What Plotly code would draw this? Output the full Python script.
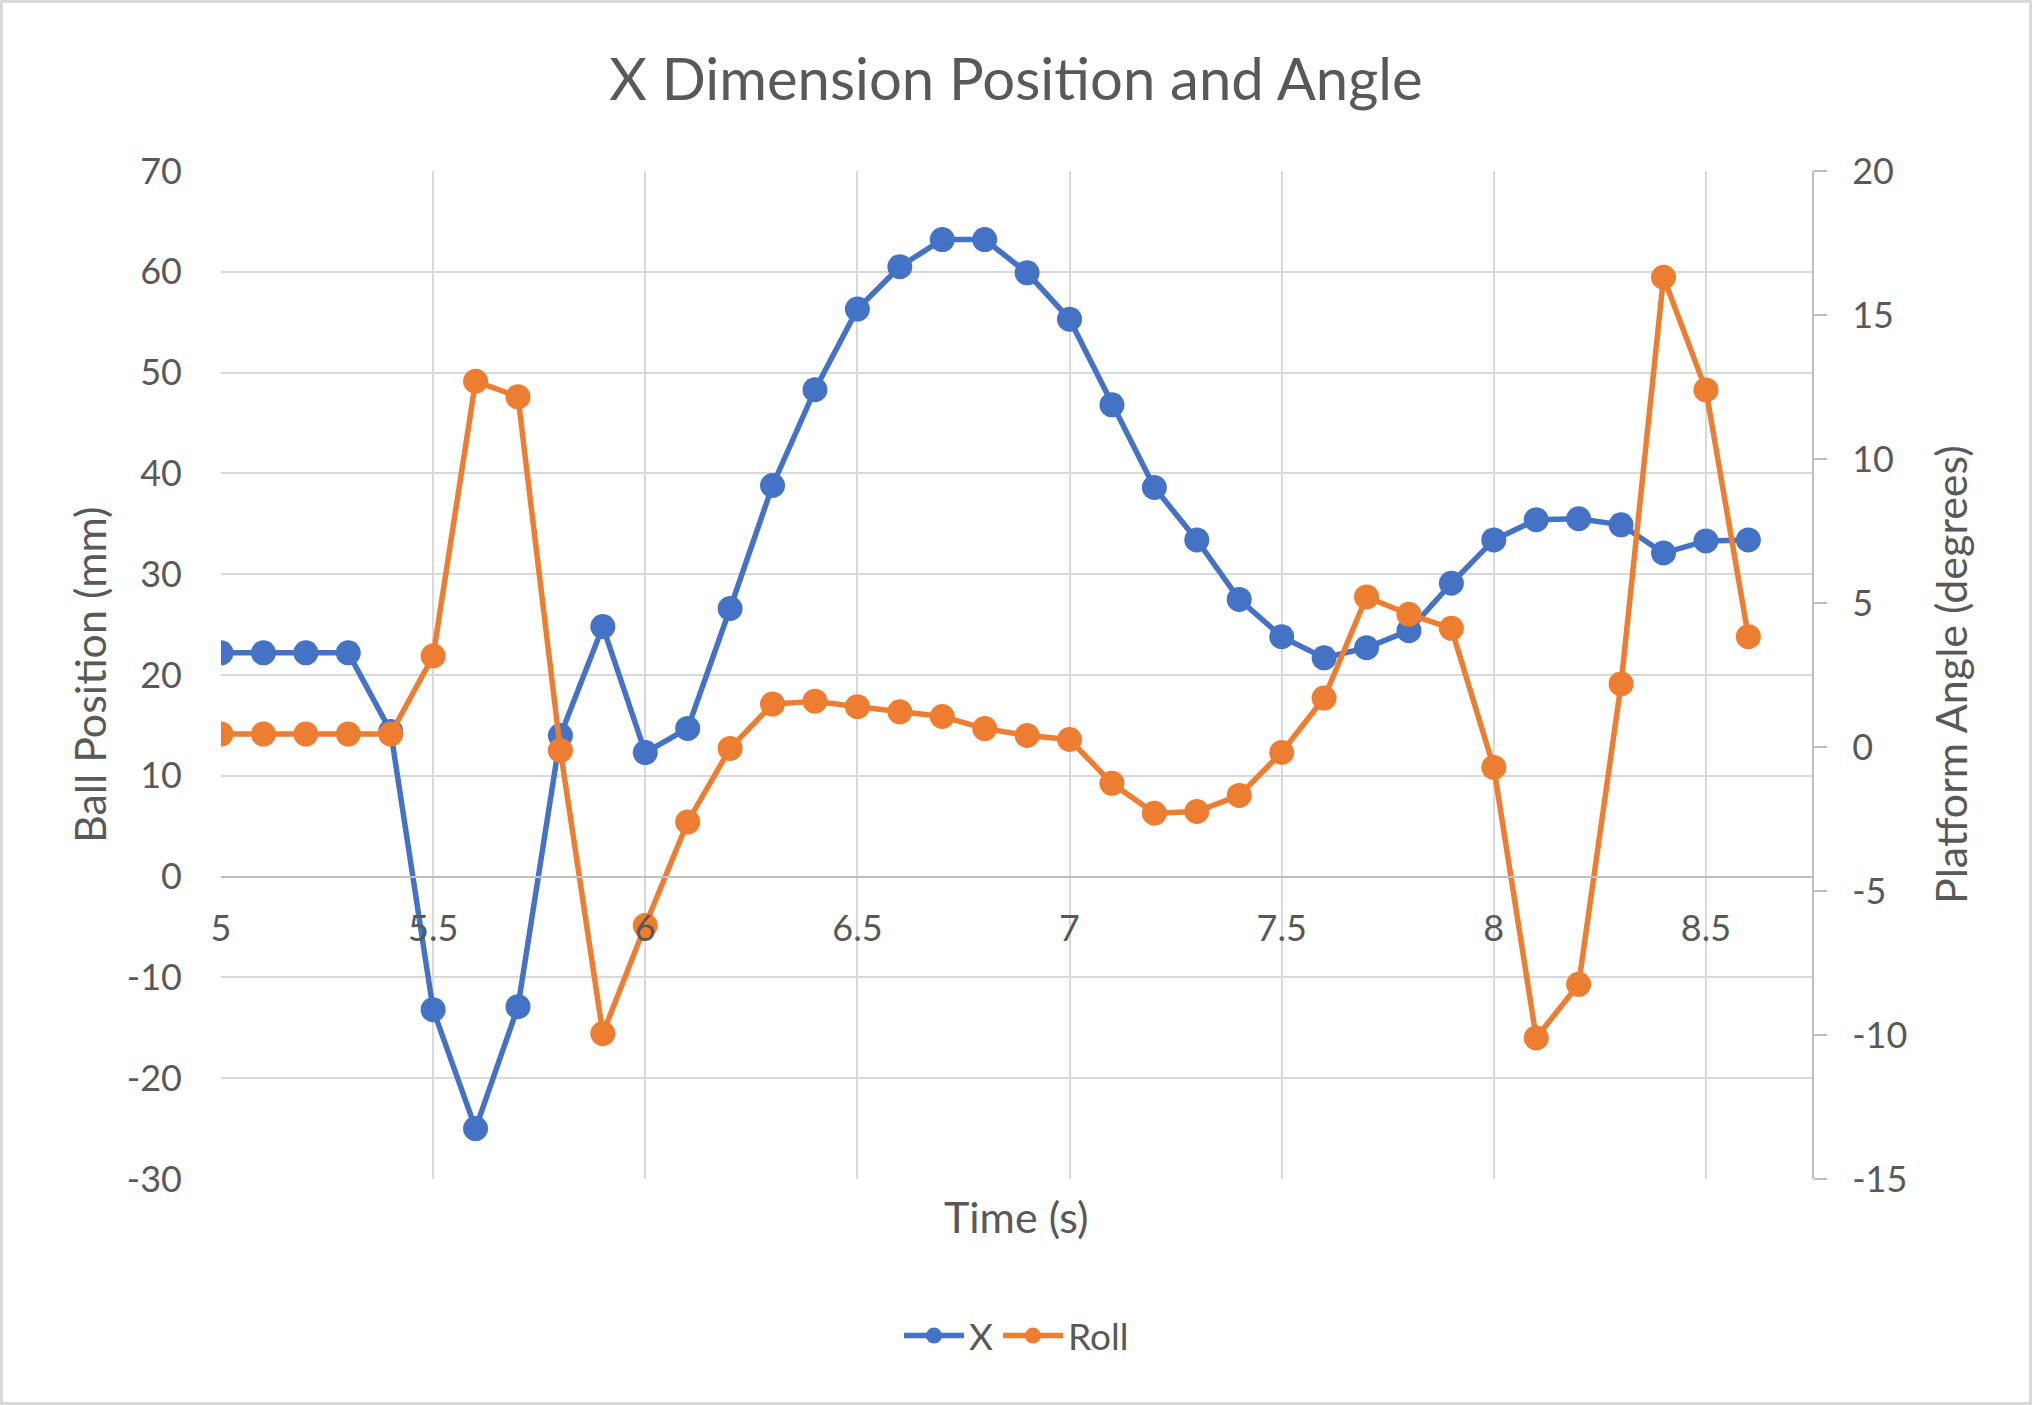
import plotly.graph_objects as go

time_s = [5.0, 5.1, 5.2, 5.3, 5.4, 5.5, 5.6, 5.7, 5.8, 5.9,
          6.0, 6.1, 6.2, 6.3, 6.4, 6.5, 6.6, 6.7, 6.8, 6.9,
          7.0, 7.1, 7.2, 7.3, 7.4, 7.5, 7.6, 7.7, 7.8, 7.9,
          8.0, 8.1, 8.2, 8.3, 8.4, 8.5, 8.6]

x_position_mm = [22.2, 22.2, 22.2, 22.2, 14.4, -13.2, -25.0, -12.9, 14.0, 24.8,
                 12.3, 14.7, 26.6, 38.8, 48.3, 56.3, 60.5, 63.2, 63.2, 59.9,
                 55.3, 46.8, 38.6, 33.4, 27.5, 23.8, 21.7, 22.7, 24.4, 29.1,
                 33.4, 35.4, 35.5, 34.9, 32.1, 33.3, 33.4]

roll_deg = [0.45, 0.45, 0.45, 0.45, 0.45, 3.16, 12.7, 12.16, -0.12, -9.95,
            -6.2, -2.6, -0.05, 1.49, 1.59, 1.40, 1.22, 1.06, 0.64, 0.40,
            0.26, -1.26, -2.30, -2.24, -1.68, -0.19, 1.7, 5.21, 4.61, 4.12,
            -0.71, -10.1, -8.24, 2.19, 16.31, 12.4, 3.83]

left_ticks = [-30, -20, -10, 0, 10, 20, 30, 40, 50, 60, 70]
left_tick_text = ["-30", "-20", "-10", "0", "10", "20", "30", "40", "50", "60", "70"]
right_ticks = [-15, -10, -5, 0, 5, 10, 15, 20]
right_tick_text = ["-15", "-10", "-5", "0", "5", "10", "15", "20"]
x_ticks = [5, 5.5, 6, 6.5, 7, 7.5, 8, 8.5]
x_tick_text = ["5", "5.5", "6", "6.5", "7", "7.5", "8", "8.5"]

TEXT = "#595959"
GRID = "#D9D9D9"
AXIS = "#BFBFBF"
BLUE = "#4472C4"
ORANGE = "#ED7D31"
FONT = "Lato"

fig = go.Figure()
fig.add_trace(go.Scatter(
    x=time_s, y=x_position_mm, name="X", mode="lines+markers",
    line=dict(color=BLUE, width=5.5),
    marker=dict(color=BLUE, size=25, line=dict(width=0)),
    yaxis="y"))
fig.add_trace(go.Scatter(
    x=time_s, y=roll_deg, name="Roll", mode="lines+markers",
    line=dict(color=ORANGE, width=5.5),
    marker=dict(color=ORANGE, size=25, line=dict(width=0)),
    yaxis="y2"))

W, H = 2032, 1405
L, R, T, B = 221, 220, 171, 226
pw, ph = W - L - R, H - T - B

def px_x(p):
    return (p - L) / pw

def px_y(p):
    return (H - B - p) / ph

fig.update_layout(
    width=W, height=H,
    margin=dict(l=L, r=R, t=T, b=B, pad=0),
    paper_bgcolor="white", plot_bgcolor="white",
    font=dict(family=FONT, color=TEXT, size=36),
    title=dict(text="X Dimension Position and Angle", x=0.5, xanchor="center",
               y=1 - 80 / H, yanchor="middle", yref="container",
               font=dict(size=58, color=TEXT, family=FONT)),
    xaxis=dict(range=[5, 8.75], tickvals=x_ticks, ticktext=x_tick_text,
               showgrid=True, gridcolor=GRID, gridwidth=2, zeroline=False,
               anchor="free", position=0.3, showline=True,
               linecolor=AXIS, linewidth=2, ticks="",
               ticklabelstandoff=20,
               tickfont=dict(size=36, color=TEXT)),
    yaxis=dict(range=[-30, 70], tickvals=left_ticks, ticktext=left_tick_text,
               showgrid=True, gridcolor=GRID,
               gridwidth=2, zeroline=False, showline=False, ticks="",
               ticklabelstandoff=38, tickfont=dict(size=36, color=TEXT)),
    yaxis2=dict(range=[-15, 20], tickvals=right_ticks, ticktext=right_tick_text,
                overlaying="y", side="right",
                showgrid=False, zeroline=False, showline=True,
                linecolor=AXIS, linewidth=2, ticks="outside", ticklen=13,
                tickwidth=2, tickcolor=AXIS, ticklabelstandoff=18,
                tickfont=dict(size=36, color=TEXT)),
    legend=dict(orientation="h", x=0.5, xanchor="center", y=px_y(1336),
                yanchor="middle", font=dict(size=37, color=TEXT),
                bgcolor="rgba(0,0,0,0)", itemwidth=60),
    showlegend=True,
)

fig.add_annotation(text="Time (s)", xref="paper", yref="paper",
                   x=0.5, y=px_y(1216), xanchor="center", yanchor="middle",
                   showarrow=False, font=dict(size=43, color=TEXT, family=FONT))
fig.add_annotation(text="Ball Position (mm)", xref="paper", yref="paper",
                   x=px_x(89), y=0.5, xanchor="center", yanchor="middle",
                   textangle=-90, showarrow=False,
                   font=dict(size=43, color=TEXT, family=FONT))
fig.add_annotation(text="Platform Angle (degrees)", xref="paper", yref="paper",
                   x=px_x(1950), y=0.5, xanchor="center", yanchor="middle",
                   textangle=-90, showarrow=False,
                   font=dict(size=43, color=TEXT, family=FONT))

fig.add_shape(type="rect", xref="paper", yref="paper",
              x0=px_x(1.5), x1=px_x(W - 1.5), y0=px_y(H - 1.5), y1=px_y(1.5),
              line=dict(color=GRID, width=3), fillcolor="rgba(0,0,0,0)",
              layer="below")

fig.write_html("out.html")
